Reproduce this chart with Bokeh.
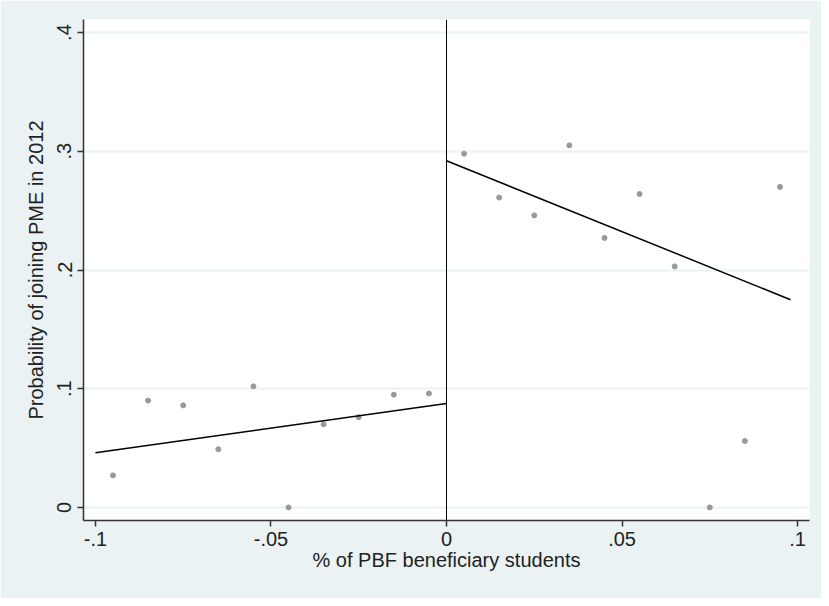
from bokeh.plotting import figure
from bokeh.models import FixedTicker, Span, Range1d
from bokeh.embed import file_html
from bokeh.resources import INLINE

# Binned means
left_x = [-0.095, -0.085, -0.075, -0.065, -0.055, -0.045, -0.035, -0.025, -0.015, -0.005]
left_y = [0.027, 0.090, 0.086, 0.049, 0.102, 0.000, 0.070, 0.076, 0.095, 0.096]
right_x = [0.005, 0.015, 0.025, 0.035, 0.045, 0.055, 0.065, 0.075, 0.085, 0.095]
right_y = [0.298, 0.261, 0.246, 0.305, 0.227, 0.264, 0.203, 0.000, 0.056, 0.270]

# Linear fits on each side of the cutoff
left_fit_x = [-0.1, 0.0]
left_fit_y = [0.046, 0.0876]
right_fit_x = [0.0, 0.098]
right_fit_y = [0.292, 0.175]

x_ticks = [-0.1, -0.05, 0.0, 0.05, 0.1]
x_tick_labels = ["-.1", "-.05", "0", ".05", ".1"]
y_ticks = [0.0, 0.1, 0.2, 0.3, 0.4]
y_tick_labels = ["0", ".1", ".2", ".3", ".4"]

FONT = "Liberation Sans"
BG = "#EAF2F3"

p = figure(width=821, height=598, output_backend="svg", toolbar_location=None,
           x_range=Range1d(-0.1034, 0.1034), y_range=Range1d(-0.011, 0.411),
           min_border_left=83, min_border_right=12, min_border_top=19, min_border_bottom=78)
p.border_fill_color = BG
p.background_fill_color = "white"
p.outline_line_color = None

p.xgrid.grid_line_color = None
p.ygrid.grid_line_color = "#EAF2F3"
p.ygrid.grid_line_width = 2
p.ygrid.ticker = FixedTicker(ticks=y_ticks)

p.xaxis.ticker = FixedTicker(ticks=x_ticks)
p.yaxis.ticker = FixedTicker(ticks=y_ticks)
p.xaxis.major_label_overrides = {t: l for t, l in zip(x_ticks, x_tick_labels)}
p.yaxis.major_label_overrides = {t: l for t, l in zip(y_ticks, y_tick_labels)}
p.yaxis.major_label_orientation = "vertical"

for ax in (p.xaxis, p.yaxis):
    ax.axis_line_color = "#333333"
    ax.axis_line_width = 1.5
    ax.major_tick_line_color = "#333333"
    ax.major_tick_line_width = 1.5
    ax.major_tick_out = 6
    ax.major_tick_in = 0
    ax.minor_tick_line_color = None
    ax.major_label_text_font = FONT
    ax.major_label_text_font_size = "20px"
    ax.major_label_text_color = "#222222"
    ax.axis_label_text_font = FONT
    ax.axis_label_text_font_size = "20px"
    ax.axis_label_text_font_style = "normal"
    ax.axis_label_text_color = "#222222"

p.xaxis.axis_label = "% of PBF beneficiary students"
p.yaxis.axis_label = "Probability of joining PME in 2012"
p.xaxis.major_label_standoff = 5
p.xaxis.axis_label_standoff = 0
p.yaxis.major_label_standoff = 6
p.yaxis.axis_label_standoff = 8

p.add_layout(Span(location=0, dimension="height", line_color="black", line_width=1))

p.scatter(left_x, left_y, size=5, color="#999999")
p.scatter(right_x, right_y, size=5, color="#999999")
p.line(left_fit_x, left_fit_y, line_color="black", line_width=1.5)
p.line(right_fit_x, right_fit_y, line_color="black", line_width=1.5)

open("out.html", "w").write(file_html(p, INLINE))
